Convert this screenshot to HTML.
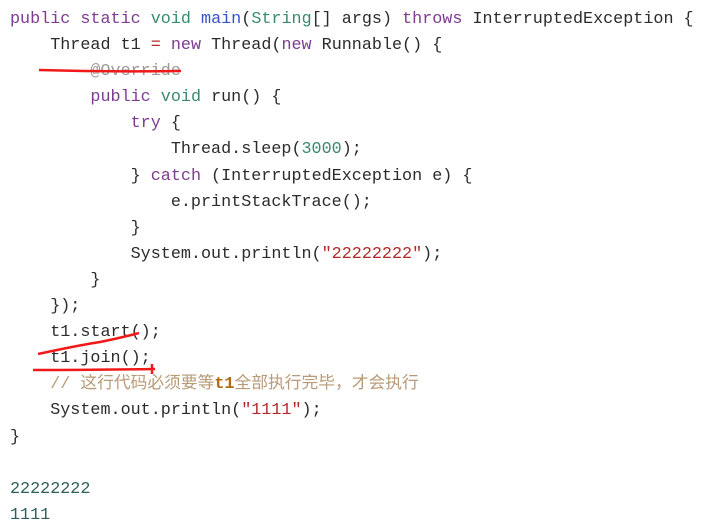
<!DOCTYPE html>
<html><head><meta charset="utf-8"><style>
html,body{margin:0;padding:0;background:#fff;width:728px;height:530px;overflow:hidden}
pre{margin:0;position:absolute;left:10px;top:7px;font-family:"Liberation Mono","Noto Sans CJK SC",monospace;font-size:16.75px;line-height:26.1px;color:#2b2b2b}
.k{color:#7d3c8f}.t{color:#3a8a6e}.m{color:#3552c9}.s{color:#b02a2a}.n{color:#3a8a6e}
.c{color:#b89a78}.a{color:#9a9a9a}.o{color:#2f5f5a}.ct{color:#b06a10;font-weight:bold}
svg{position:absolute;left:0;top:0}
</style></head><body>
<pre><span class="k">public</span> <span class="k">static</span> <span class="t">void</span> <span class="m">main</span>(<span class="t">String</span>[] args) <span class="k">throws</span> InterruptedException {
    Thread t1 <span class="s">=</span> <span class="k">new</span> Thread(<span class="k">new</span> Runnable() {
        <span class="a">@Override</span>
        <span class="k">public</span> <span class="t">void</span> run() {
            <span class="k">try</span> {
                Thread.sleep(<span class="n">3000</span>);
            } <span class="k">catch</span> (InterruptedException e) {
                e.printStackTrace();
            }
            System.out.println(<span class="s">"22222222"</span>);
        }
    });
    t1.start();
    t1.join();
    <span class="c">// 这行代码必须要等<span class="ct">t1</span>全部执行完毕，才会执行</span>
    System.out.println(<span class="s">"1111"</span>);
}

<span class="o">22222222</span>
<span class="o">1111</span></pre>
<svg width="728" height="530">
<path d="M39 70 Q110 72 181 71" stroke="#f01818" stroke-width="2.5" fill="none"/>
<path d="M38 354 Q80 345 100 342 Q120 338 139 333" stroke="#f01818" stroke-width="2.5" fill="none"/>
<path d="M33 370 Q90 370 155 369 M152 364 L152 374" stroke="#f01818" stroke-width="2.5" fill="none"/>
</svg>
</body></html>
